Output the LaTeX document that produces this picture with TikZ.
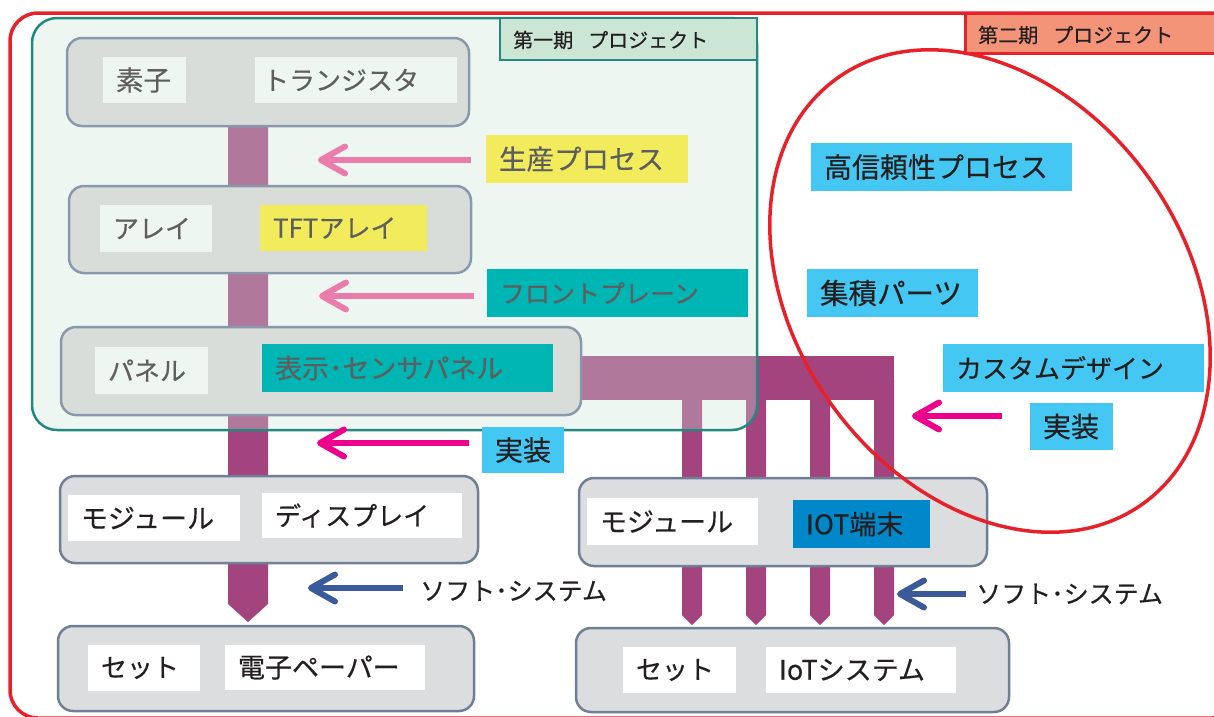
\documentclass[tikz,border=0pt]{standalone}
\usepackage{fontspec}
\setmainfont{Noto Sans CJK JP}[FakeBold=0.4]
\usetikzlibrary{arrows.meta,shapes.geometric}
\newcommand{\myfs}[1]{\fontsize{#1}{#1}\selectfont}
\definecolor{outred}{HTML}{E62129}
\definecolor{tealb}{HTML}{23897E}
\definecolor{tealfill}{HTML}{CCE6D6}
\definecolor{barc}{HTML}{A3447F}
\definecolor{gfillO}{HTML}{DCDDDF}
\definecolor{gborO}{HTML}{6F7F96}
\definecolor{gfillI}{HTML}{D8DDDA}
\definecolor{gborI}{HTML}{8999AB}
\definecolor{lablight}{HTML}{EEF6F1}
\definecolor{yellowc}{HTML}{F2EC5D}
\definecolor{tealc}{HTML}{00B6B5}
\definecolor{skyc}{HTML}{44C8F3}
\definecolor{iotc}{HTML}{0088CB}
\definecolor{pinkc}{HTML}{E97BAD}
\definecolor{magc}{HTML}{EC008C}
\definecolor{bluec}{HTML}{3A5A99}
\definecolor{salmonc}{HTML}{F39479}
\definecolor{gtext}{HTML}{5E5E5E}
\definecolor{dtext}{HTML}{231F20}
\begin{document}
\begin{tikzpicture}[x=1pt,y=-1pt,
  gboxO/.style={draw=gborO, fill=gfillO, line width=2.5pt, rounded corners=15pt, inner sep=0pt},
  gboxI/.style={draw=gborI, fill=gfillI, line width=2.5pt, rounded corners=15pt, inner sep=0pt},
  lab/.style={inner xsep=13pt, inner ysep=0pt, align=left, anchor=center, font=\myfs{26}, text=dtext},
  labI/.style={lab, text=gtext},
  bar/.style={fill=barc},
  arr/.style={line width=6pt, -{Straight Barb[length=24pt,width=27pt,line cap=round,line join=round]}},
  soft/.style={anchor=west, inner sep=0pt, font=\myfs{25}, text=dtext}
]
\useasboundingbox (0,0) rectangle (1214,716);
\clip (0,0) rectangle (1214,716);
\fill[white] (0,0) rectangle (1214,716);
% outer red frame
\draw[outred, line width=3.5pt, rounded corners=28pt] (10,13) rectangle (1240,718);
% bars
\fill[bar] (228,100) -- (268,100) -- (268,604) -- (248,622) -- (228,604) -- cycle;
\fill[bar] (540,356) rectangle (894,400);
\foreach \bx in {682,746,810,874}{
  \fill[bar] (\bx,380) -- (\bx+20,380) -- (\bx+20,615) -- (\bx+10,625) -- (\bx,615) -- cycle;
}
% phase 1 overlay
\path[fill=tealfill, fill opacity=0.33, rounded corners=25pt] (32,18) rectangle (757,430);
\draw[tealb, line width=2.5pt, rounded corners=25pt] (32,18) rectangle (757,430);
% gray boxes
\node[gboxI, minimum width=402pt, minimum height=88pt] (bSoshi) at (268,82) {};
\node[gboxI, minimum width=402pt, minimum height=87pt] (bArray) at (270,229.5) {};
\node[gboxI, minimum width=520pt, minimum height=88pt] (bPanel) at (321,371) {};
\node[gboxO, minimum width=418pt, minimum height=87pt] (bModL) at (269,519.5) {};
\node[gboxO, minimum width=416pt, minimum height=85pt] (bSetL) at (266,668.5) {};
\node[gboxO, minimum width=408pt, minimum height=88pt] (bModR) at (783,522) {};
\node[gboxO, minimum width=433pt, minimum height=84pt] (bSetR) at (792.5,670) {};
% labels inside phase 1
\node[labI, fill=lablight, text width=57pt, minimum height=46pt, font=\myfs{27.5}] (lSoshi) at (144.5,80) {素子};
\node[labI, fill=lablight, inner xsep=8pt, text width=186pt, minimum height=46pt] (lTr) at (356,80) {トランジスタ};
\node[labI, fill=lablight, text width=86pt, minimum height=47pt] (lArray) at (156,228.5) {アレイ};
\node[labI, fill=yellowc, text width=141pt, minimum height=46pt] (lTFT) at (343.5,228) {TFTアレイ};
\node[labI, fill=lablight, text width=87pt, minimum height=47pt] (lPanel) at (151.5,370.5) {パネル};
\node[labI, fill=tealc, text width=265pt, minimum height=48pt, font=\myfs{27}] (lDisp) at (407.5,368) {表示･センサパネル};
\node[labI, fill=yellowc, text width=176pt, minimum height=48pt, font=\myfs{27.5}] (lSeisan) at (587,159) {生産プロセス};
\node[labI, fill=tealc, text width=235pt, minimum height=48pt, font=\myfs{25}] (lFront) at (617.5,293) {フロントプレーン};
% labels outside
\node[lab, fill=skyc, text width=56pt, minimum height=46pt, font=\myfs{28}] (lJissoL) at (523,450) {実装};
\node[lab, fill=white, text width=146pt, minimum height=46pt, font=\myfs{27}] (lModL) at (154,518) {モジュール};
\node[lab, fill=white, text width=174pt, minimum height=45pt] (lDisplay) at (362,515.5) {ディスプレイ};
\node[lab, fill=white, text width=86pt, minimum height=46pt] (lSetL) at (144,668) {セット};
\node[lab, fill=white, text width=174pt, minimum height=45pt, font=\myfs{27}] (lEpaper) at (325,667.5) {電子ペーパー};
\node[lab, fill=white, text width=145pt, minimum height=47pt, font=\myfs{27}] (lModR) at (672.5,521.5) {モジュール};
\node[lab, fill=iotc, text width=111pt, minimum height=48pt, font=\myfs{27}] (lIOT) at (861.5,524) {IOT端末};
\node[lab, fill=white, text width=87pt, minimum height=46pt] (lSetR) at (679.5,670) {セット};
\node[lab, fill=white, text width=164pt, minimum height=46pt, font=\myfs{27}] (lIoTsys) at (861,670) {IoTシステム};
\node[lab, fill=skyc, text width=235pt, minimum height=48pt, font=\myfs{28}] (lHigh) at (941.5,167) {高信頼性プロセス};
\node[lab, fill=skyc, text width=145pt, minimum height=48pt, font=\myfs{28.5}] (lParts) at (892.5,293) {集積パーツ};
\node[lab, fill=skyc, text width=235pt, minimum height=48pt, font=\myfs{26}] (lCustom) at (1073.5,368) {カスタムデザイン};
\node[lab, fill=skyc, text width=57pt, minimum height=47pt, font=\myfs{28}] (lJissoR) at (1071.5,426.5) {実装};
% soft system texts
\node[soft] (softL) at (420,591) {ソフト･システム};
\node[soft] (softR) at (976,594) {ソフト･システム};
% arrows
\coordinate (t1) at (318,160);
\coordinate (t2) at (319,296);
\coordinate (t3) at (317,443);
\coordinate (t4) at (308,588);
\coordinate (t5) at (897,594);
\coordinate (t6) at (912,416);
\draw[arr, pinkc] ([xshift=-15pt]t1 -| lSeisan.west) -- (t1);
\draw[arr, pinkc] ([xshift=-13pt]t2 -| lFront.west) -- (t2);
\draw[arr, magc] ([xshift=-13pt]t3 -| lJissoL.west) -- (t3);
\draw[arr, bluec] ([xshift=-17pt]t4 -| softL.west) -- (t4);
\draw[arr, bluec] ([xshift=-10pt]t5 -| softR.west) -- (t5);
\draw[arr, magc] ([xshift=-28pt]t6 -| lJissoR.west) -- (t6);
% phase labels
\node[draw=tealb, fill=tealfill, line width=2.5pt, minimum width=257pt, minimum height=42pt, inner sep=0pt] (ph1) at (628.5,39) {};
\node[anchor=west, inner sep=0pt, font=\myfs{20}, text=dtext] (ph1t) at (513,40) {第一期\hspace{15pt}プロジェクト};
\node[draw=outred, fill=salmonc, line width=3pt, minimum width=280pt, minimum height=40pt, inner sep=0pt] (ph2) at (1105,33) {};
\node[anchor=west, inner sep=0pt, font=\myfs{20}, text=dtext] (ph2t) at (978,35) {第二期\hspace{15pt}プロジェクト};
% ellipse
\node[ellipse, draw=outred, line width=3.5pt, minimum width=524pt, minimum height=390pt, inner sep=0pt, rotate=-54.2] (ell) at (990,291) {};
\end{tikzpicture}
\end{document}
